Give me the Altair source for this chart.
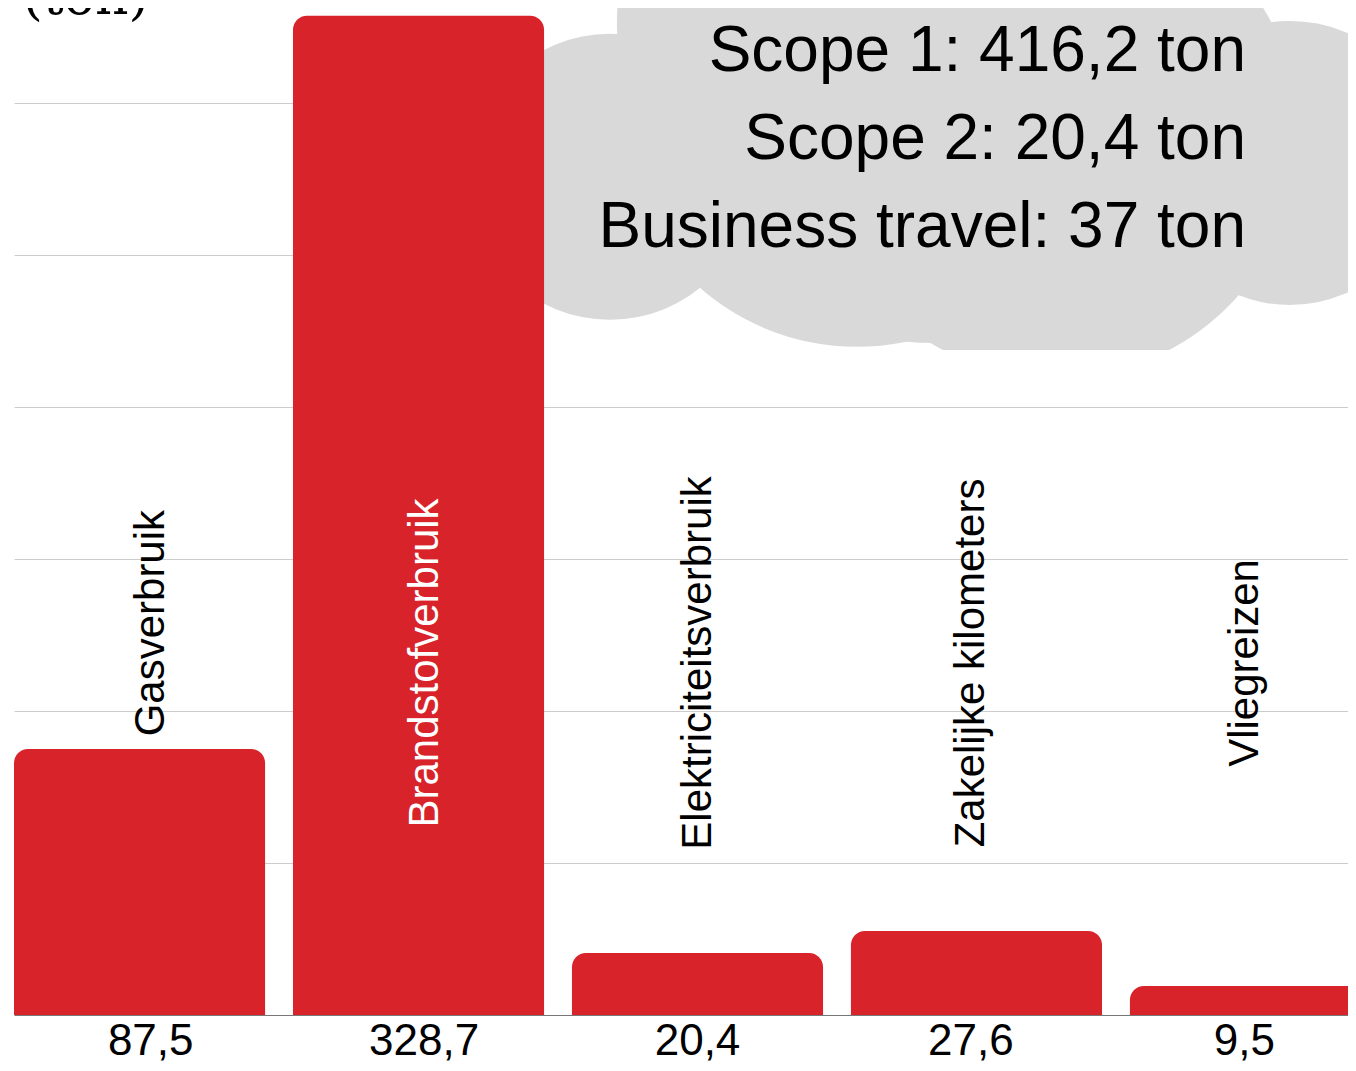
import altair as alt
import pandas as pd

# ---------------- data ----------------
categories = ["Gasverbruik", "Brandstofverbruik", "Elektriciteitsverbruik",
              "Zakelijke kilometers", "Vliegreizen"]
values = [87.5, 328.7, 20.4, 27.6, 9.5]
value_labels = ["87,5", "328,7", "20,4", "27,6", "9,5"]

summary_lines = ["Scope 1: 416,2 ton", "Scope 2: 20,4 ton", "Business travel: 37 ton"]

# decorative cloud lobes: centre in (category steps, ton), radius in px
cloud_x = [2.136, 3.301, 3.022, 3.735, 4.573]
cloud_y = [275.7, 325.7, 298.4, 289.5, 280.3]
cloud_r = [143, 318, 239, 243, 142]

# ---------------- layout constants ----------------
RED = "#d8232b"
GREY = "#d9d9d9"
PLOT_W = 1334
PLOT_H = 1007
PX_PER_TON = 3.04
Y_MAX = PLOT_H / PX_PER_TON
X_RANGE = 1367          # 5 bands of ~279 px, last one runs past the edge
X_STEPS = 4.9
LABEL_MID = 115.8
SUM_X = 4.416
SUM_TOP = 310.5
SUM_STEP = 28.95

df = pd.DataFrame({"category": categories, "value": values, "label": value_labels})
cloud_df = pd.DataFrame({"cx": cloud_x, "cy": cloud_y,
                         "size": [(2 * r) ** 2 for r in cloud_r]})
sum_df = pd.DataFrame({"text": summary_lines,
                       "sx": [SUM_X] * len(summary_lines),
                       "sy": [SUM_TOP - i * SUM_STEP for i in range(len(summary_lines))]})
cut_df = pd.DataFrame({"x1": [3.283], "x2": [4.251], "y1": [208.9], "y2": [218.75]})

yscale = alt.Scale(domain=[0, Y_MAX], nice=False, zero=True)
bscale = alt.Scale(domain=categories, range=[0, X_RANGE], paddingInner=0.1, paddingOuter=0)
qscale = alt.Scale(domain=[0, X_STEPS], range=[0, X_RANGE], nice=False, zero=False)

yaxis = alt.Axis(values=[50, 100, 150, 200, 250, 300], labels=False, ticks=False,
                 domain=False, grid=True, gridColor="#cccccc", gridWidth=1,
                 title="(ton)", titleAngle=0, titleAlign="left",
                 titleBaseline="alphabetic", titleX=8, titleY=5,
                 titleFont="DejaVu Serif", titleFontSize=52,
                 titleFontWeight="normal", titleColor="#000000")

xb = alt.X("category:N", sort=categories, scale=bscale,
           axis=alt.Axis(labels=False, ticks=False, title=None, domain=True,
                         domainColor="#777777", domainWidth=1, grid=False))
xb_noaxis = alt.X("category:N", sort=categories, scale=bscale, axis=None)

bars = alt.Chart(df).mark_bar(
    color=RED, cornerRadiusTopLeft=14, cornerRadiusTopRight=14
).encode(
    x=xb,
    y=alt.Y("value:Q", scale=yscale, axis=yaxis, stack=None),
)

cloud = alt.Chart(cloud_df).mark_circle(color=GREY, opacity=1).encode(
    x=alt.X("cx:Q", scale=qscale, axis=None),
    y=alt.Y("cy:Q", scale=yscale, axis=yaxis),
    size=alt.Size("size:Q", scale=None),
)

cut = alt.Chart(cut_df).mark_rect(color="white", opacity=1).encode(
    x=alt.X("x1:Q", scale=qscale, axis=None), x2="x2:Q",
    y=alt.Y("y1:Q", scale=yscale, axis=yaxis), y2="y2:Q",
)

half = "(length(datum.category) * 20.7 / 2 / %f)" % PX_PER_TON
pad = "(12 / %f)" % PX_PER_TON
inside = "(datum.value >= %f + %s + %s)" % (LABEL_MID, half, pad)

cat_labels = alt.Chart(df).transform_calculate(
    label_y="%s ? %f : max(%f, datum.value + %s + %s)" % (inside, LABEL_MID, LABEL_MID, pad, half),
    label_color="%s ? 'white' : 'black'" % inside,
).mark_text(
    angle=270, align="center", baseline="alphabetic", dy=13.5,
    fontSize=42, font="Liberation Sans"
).encode(
    x=xb_noaxis,
    y=alt.Y("label_y:Q", scale=yscale, axis=yaxis),
    text="category:N",
    color=alt.Color("label_color:N", scale=None),
)

val_labels = alt.Chart(df).transform_calculate(zero="0").mark_text(
    baseline="alphabetic", align="center", dy=40, fontSize=44,
    font="Liberation Sans", color="black"
).encode(
    x=xb_noaxis,
    y=alt.Y("zero:Q", scale=yscale, axis=yaxis),
    text="label:N",
)

summary = alt.Chart(sum_df).mark_text(
    align="right", baseline="alphabetic", fontSize=64, font="Liberation Sans",
    color="black"
).encode(
    x=alt.X("sx:Q", scale=qscale, axis=None),
    y=alt.Y("sy:Q", scale=yscale, axis=yaxis),
    text="text:N",
)

chart = alt.layer(cloud, cut, bars, cat_labels, val_labels, summary).resolve_scale(
    x="independent"
).properties(
    width=PLOT_W, height=PLOT_H,
    autosize=alt.AutoSizeParams(type="none"),
    padding={"left": 6, "top": 0, "right": 0, "bottom": 48},
    background="white",
).configure_view(stroke=None)

chart.save("out.html", embed_options={"renderer": "svg", "actions": False})
